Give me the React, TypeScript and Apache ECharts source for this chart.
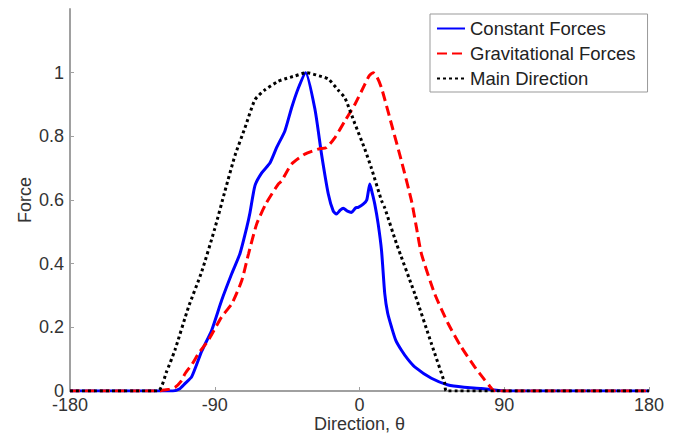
import React, { useEffect, useRef } from "react";
import * as echarts from "echarts";

const seriesNames = ["Constant Forces", "Gravitational Forces", "Main Direction"];

const constX = [-180, -116, -112, -108.4, -104.3, -98.1, -91.9, -85.7, -79.4, -74.3, -70.1, -68.1, -65.0, -60.8, -55.7, -51.5, -46.4, -42.2, -38.0, -33.5, -27.7, -23.6, -19.4, -16.3, -14.3, -12, -10.1, -7.5, -5.0, -2.5, -0.8, 2.3, 4.5, 6.4, 8, 9.5, 11.6, 13.7, 15.7, 17.5, 19.9, 22.5, 26.1, 30, 34.3, 44.7, 55.1, 65, 75.7, 90, 180];
const constY = [0, 0, 0.006, 0.024, 0.045, 0.125, 0.191, 0.285, 0.369, 0.432, 0.514, 0.56, 0.645, 0.685, 0.716, 0.765, 0.817, 0.89, 0.952, 1.0, 0.885, 0.744, 0.619, 0.565, 0.556, 0.568, 0.574, 0.565, 0.561, 0.575, 0.577, 0.587, 0.6, 0.65, 0.62, 0.587, 0.525, 0.441, 0.306, 0.245, 0.201, 0.16, 0.128, 0.1, 0.076, 0.04, 0.019, 0.012, 0.008, 0, 0];

const gravX = [-180, -124, -121.8, -118, -114.6, -111, -108.4, -104, -100.1, -93.9, -85.7, -79.4, -73.2, -69.0, -63.9, -58, -50.5, -48.4, -42.2, -34.0, -25.6, -20.5, -15.3, -9.1, -2.9, 3.3, 6, 8.5, 11, 13.7, 19.9, 26.1, 32.3, 35.4, 38.5, 46.7, 55.1, 63.3, 71.6, 77.8, 81, 84, 180];
const gravY = [0, 0, 0.003, 0.006, 0.012, 0.03, 0.055, 0.085, 0.118, 0.16, 0.233, 0.274, 0.347, 0.431, 0.525, 0.59, 0.65, 0.66, 0.713, 0.744, 0.76, 0.765, 0.796, 0.848, 0.9, 0.963, 0.99, 1.0, 0.985, 0.952, 0.838, 0.722, 0.598, 0.514, 0.431, 0.306, 0.212, 0.138, 0.076, 0.035, 0.015, 0, 0];

const mainX = [-180, -125.4, -120, -114.8, -106.3, -98.1, -90.0, -83.6, -77.4, -71.2, -65.0, -59.0, -50.5, -46.6, -40, -33, -25, -19.4, -13.2, -9.1, -2.9, 3.3, 7.4, 13.7, 15.7, 23, 34.3, 44.7, 53, 54, 180];
const mainY = [0, 0, 0.06, 0.128, 0.264, 0.375, 0.51, 0.629, 0.74, 0.827, 0.915, 0.945, 0.973, 0.98, 0.99, 1.0, 0.99, 0.98, 0.945, 0.921, 0.84, 0.76, 0.7, 0.598, 0.575, 0.463, 0.306, 0.149, 0.024, 0, 0];

const xTicks = [-180, -90, 0, 90, 180];
const yTicks = [0, 0.2, 0.4, 0.6, 0.8, 1];

const FONT = "'Liberation Sans', Arial, sans-serif";

function pairs(xs: number[], ys: number[]) {
  return xs.map((x, i) => [x, ys[i]]);
}

export default function App() {
  const ref = useRef<HTMLDivElement>(null);
  useEffect(() => {
    if (!ref.current) return;
    const chart = echarts.init(ref.current, undefined, { renderer: "svg" });
    const axisColor = "#a0a0a0";
    chart.setOption({
      animation: false,
      backgroundColor: "#fff",
      grid: { left: 70, right: 24, top: 9, bottom: 43, outerBoundsMode: "none", containLabel: false },
      legend: {
        data: seriesNames,
        orient: "vertical",
        left: 430,
        top: 14,
        padding: [5, 12, 4, 6],
        itemWidth: 28,
        itemHeight: 12,
        itemGap: 6,
        borderColor: "#999",
        borderWidth: 1,
        backgroundColor: "#fff",
        itemStyle: { opacity: 0 },
        textStyle: { fontSize: 18.5, color: "#222", fontFamily: FONT },
      },
      xAxis: {
        type: "value",
        min: -180,
        max: 180,
        interval: 90,
        name: "Direction, θ",
        nameLocation: "middle",
        nameGap: 24,
        nameMoveOverlap: false,
        nameTextStyle: { fontSize: 18, lineHeight: 18, color: "#333", fontFamily: FONT },
        axisLine: { onZero: false, lineStyle: { color: axisColor, width: 2 } },
        axisTick: { inside: true, length: 4, lineStyle: { color: axisColor }, customValues: xTicks },
        axisLabel: { margin: 5, fontSize: 18, color: "#333", fontFamily: FONT, customValues: xTicks },
        splitLine: { show: false },
      },
      yAxis: {
        type: "value",
        min: 0,
        max: 1.2,
        interval: 0.2,
        name: "Force",
        nameLocation: "middle",
        nameGap: 36,
        nameMoveOverlap: false,
        nameTextStyle: { fontSize: 18, color: "#333", fontFamily: FONT },
        axisLine: { show: true, onZero: false, lineStyle: { color: axisColor, width: 2 } },
        axisTick: { show: true, inside: true, length: 4, lineStyle: { color: axisColor }, customValues: yTicks },
        axisLabel: { margin: 6, fontSize: 18, color: "#333", fontFamily: FONT, customValues: yTicks },
        splitLine: { show: false },
      },
      series: [
        {
          name: seriesNames[0],
          type: "line",
          data: pairs(constX, constY),
          showSymbol: false,
          symbol: "none",
          smooth: 0.2,
          lineStyle: { color: "#0000ff", width: 3 },
          itemStyle: { color: "#0000ff" },
        },
        {
          name: seriesNames[1],
          type: "line",
          data: pairs(gravX, gravY),
          showSymbol: false,
          symbol: "none",
          smooth: 0.2,
          lineStyle: { color: "#ff0000", width: 3, type: [10, 5] },
          itemStyle: { color: "#ff0000" },
        },
        {
          name: seriesNames[2],
          type: "line",
          data: pairs(mainX, mainY),
          showSymbol: false,
          symbol: "none",
          smooth: 0.2,
          lineStyle: { color: "#000000", width: 3, type: [3, 3] },
          itemStyle: { color: "#000000" },
        },
      ],
    });
    return () => chart.dispose();
  }, []);
  return (
    <div
      ref={ref}
      style={{ position: "fixed", left: 0, top: 0, width: 673, height: 434, background: "#fff" }}
    />
  );
}
